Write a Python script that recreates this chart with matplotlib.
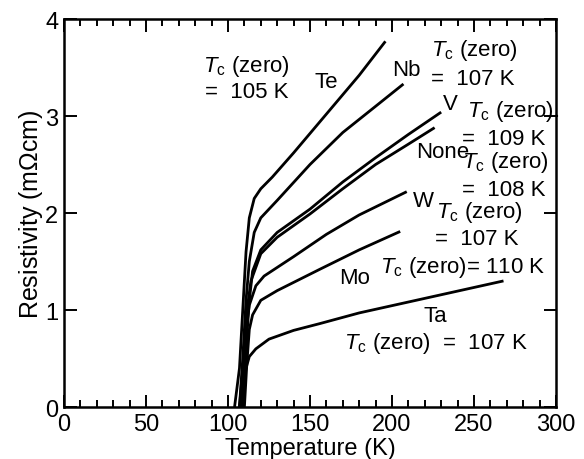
import matplotlib.pyplot as plt
from matplotlib.ticker import MultipleLocator

plt.rcParams["font.family"] = ["Liberation Sans", "DejaVu Sans"]
plt.rcParams["mathtext.fontset"] = "custom"
plt.rcParams["mathtext.rm"] = "Liberation Sans"
plt.rcParams["mathtext.it"] = "Liberation Sans:italic"

# resistivity curves (T in K, rho in mOhm cm) for each dopant
te_T = [104, 107, 109, 111, 113, 116, 120, 127, 140, 160, 180, 196]
te_R = [0, 0.4, 1.0, 1.6, 1.95, 2.15, 2.25, 2.37, 2.62, 3.02, 3.42, 3.77]

nb_T = [107, 109, 111, 113, 116, 120, 130, 150, 170, 190, 207]
nb_R = [0, 0.5, 1.1, 1.5, 1.8, 1.95, 2.13, 2.5, 2.83, 3.1, 3.33]

v_T = [109, 111, 113, 115, 120, 130, 150, 170, 190, 210, 230]
v_R = [0, 0.6, 1.1, 1.4, 1.62, 1.8, 2.04, 2.32, 2.57, 2.81, 3.04]

none_T = [108, 110, 112, 114, 120, 130, 150, 170, 190, 210, 226]
none_R = [0, 0.6, 1.05, 1.3, 1.58, 1.75, 1.99, 2.25, 2.5, 2.71, 2.88]

w_T = [107, 109, 111, 113, 117, 122, 140, 160, 180, 209]
w_R = [0, 0.4, 0.8, 1.05, 1.25, 1.35, 1.55, 1.78, 1.98, 2.22]

mo_T = [110, 111.5, 113, 115, 120, 130, 156, 180, 205]
mo_R = [0, 0.45, 0.8, 0.95, 1.1, 1.2, 1.42, 1.62, 1.81]

ta_T = [107, 109, 111, 113, 117, 125, 140, 156, 180, 220, 268]
ta_R = [0, 0.2, 0.4, 0.52, 0.6, 0.7, 0.79, 0.86, 0.97, 1.12, 1.30]

curves = [(te_T, te_R), (nb_T, nb_R), (v_T, v_R), (none_T, none_R),
          (w_T, w_R), (mo_T, mo_R), (ta_T, ta_R)]

fig = plt.figure(figsize=(5.84, 4.60), dpi=100)
ax = fig.add_axes([0.1096, 0.113, 0.8424, 0.8435])

for T, R in curves:
    ax.plot(T, R, color="black", lw=2.0, solid_capstyle="butt",
            solid_joinstyle="round")

ax.set_xlim(0, 300)
ax.set_ylim(0, 4)
ax.xaxis.set_major_locator(MultipleLocator(50))
ax.xaxis.set_minor_locator(MultipleLocator(10))
ax.yaxis.set_major_locator(MultipleLocator(1))

ax.tick_params(which="both", direction="in", top=True, right=True,
               labelsize=17, width=1.4)
ax.tick_params(which="major", length=9, pad=4)
ax.tick_params(which="minor", length=5)
for s in ax.spines.values():
    s.set_linewidth(1.8)

ax.set_xlabel("Temperature (K)", fontsize=17, labelpad=1.5)
ax.set_ylabel(r"Resistivity (m$\Omega$cm)", fontsize=18, labelpad=0)

tc = r"$T_{\rm c}$ (zero)"
fs = 16
labels = [
    (85, 3.52, tc), (86, 3.25, "=  105 K"),
    (153, 3.36, "Te"),
    (200, 3.48, "Nb"),
    (224, 3.69, tc), (224, 3.39, "=  107 K"),
    (231, 3.13, "V"),
    (246, 3.06, tc + "."), (243, 2.77, "=  109 K"),
    (215, 2.63, "None"), (243, 2.53, tc), (243, 2.24, "=  108 K"),
    (212.5, 2.13, "W"), (227, 2.02, tc), (226, 1.74, "=  107 K"),
    (168, 1.34, "Mo"), (192.5, 1.45, tc + "= 110 K"),
    (219, 0.94, "Ta"), (171, 0.67, tc + "  =  107 K"),
]
for x, y, s in labels:
    ax.text(x, y, s, fontsize=fs, ha="left", va="center")

fig.savefig("out.png", dpi=100)
